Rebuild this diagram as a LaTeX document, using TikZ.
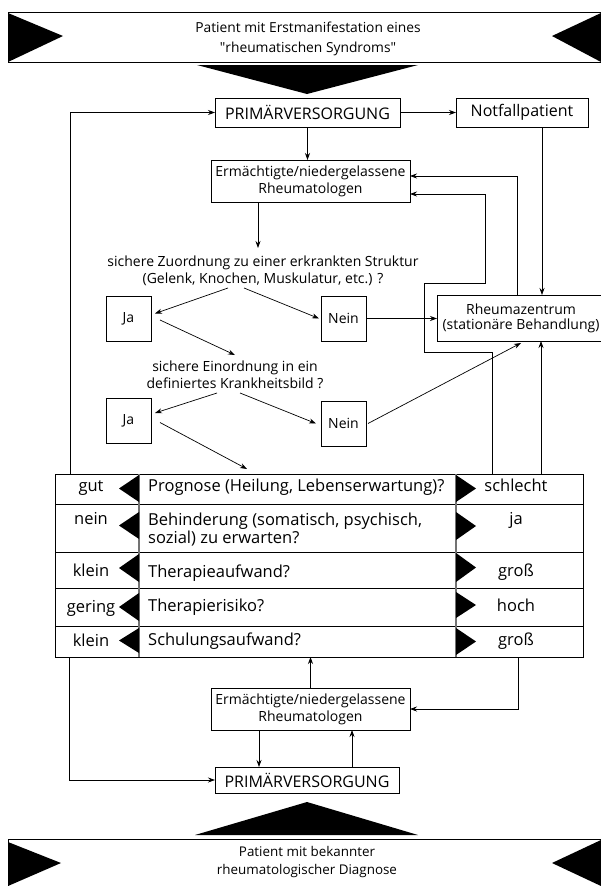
\documentclass[tikz,border=0pt]{standalone}
\usepackage{fontspec}
\setmainfont{Open Sans}
\newfontfamily\plainq{Open Sans}[Ligatures=TeXOff]
\usetikzlibrary{arrows.meta,calc}
\newcommand\fsA{\fontsize{13.8}{20}\selectfont}
\newcommand\fsE{\fontsize{13.4}{18}\selectfont}
\newcommand\fsB{\fontsize{16}{19}\selectfont}
\newcommand\fsC{\fontsize{14}{17}\selectfont}
\newcommand\fsR{\fontsize{14}{15}\selectfont}
\newcommand\fsD{\fontsize{16.5}{18}\selectfont}
\newcommand\sq{{\plainq\char34}}
\begin{document}
\begin{tikzpicture}[x=1pt,y=-1pt,
  box/.style={draw,line width=0.7pt,inner sep=0pt,outer sep=0pt,align=center},
  arr/.style={-{Stealth[length=7pt,width=5pt]},line width=0.7pt},
  ln/.style={line width=0.7pt},
  txt/.style={inner sep=0pt,outer sep=0pt,align=center},
  cell/.style={inner sep=0pt,anchor=mid,font=\fsD},
  div/.style={line width=1.8pt,draw=black!55}
]
\useasboundingbox (0,0) rectangle (601,886);

% ---------- top banner ----------
\draw[ln] (606,12) -- (8,12) -- (8,62) -- (606,62);
\fill (8,13) -- (63,36) -- (8,62) -- cycle;
\fill (601,13) -- (552,36) -- (601,62) -- cycle;
\node[txt,font=\fsA] (topban) at (308,39) {Patient mit Erstmanifestation eines\\\sq rheumatischen Syndroms\sq};
\fill (197,65) -- (418,65) -- (307,94) -- cycle;

% ---------- upper part ----------
\node[box,font=\fsB,minimum width=185pt,minimum height=29pt] (prim) at (307.5,112.5) {PRIMÄRVERSORGUNG};
\node[box,font=\fsB,minimum width=132pt,minimum height=29pt] (notf) at (522,112.5) {Notfallpatient};
\node[box,font=\fsC,minimum width=199pt,minimum height=42pt] (erm) at (310.5,181) {Ermächtigte/niedergelassene\\Rheumatologen};
\node[txt,font=\fsC] (q1) at (263,271) {sichere Zuordnung zu einer erkrankten Struktur\\(Gelenk, Knochen, Muskulatur, etc.) ?};
\node[box,font=\fsC,minimum width=45pt,minimum height=45pt] (ja1) at (128.5,318.5) {Ja};
\node[box,font=\fsC,minimum width=45pt,minimum height=45pt] (nein1) at (343.5,318.5) {Nein};
\node[box,font=\fsR,minimum width=168pt,minimum height=46pt] (rz) at (521,318) {Rheumazentrum\\(stationäre Behandlung)};
\node[txt,font=\fsC] (q2) at (235,375) {sichere Einordnung in ein\\definiertes Krankheitsbild ?};
\node[box,font=\fsC,minimum width=45pt,minimum height=45pt] (ja2) at (128.5,420.5) {Ja};
\node[box,font=\fsC,minimum width=45pt,minimum height=45pt] (nein2) at (343.5,423.5) {Nein};

% ---------- table ----------
\node[draw,line width=0.8pt,inner sep=0pt,outer sep=0pt,minimum width=528pt,minimum height=183pt,anchor=north west] (tbl) at (55,474) {};
\draw[ln] (55,504) -- (583,504);
\draw[ln] (55,552) -- (583,552);
\draw[ln] (55,588) -- (583,588);
\draw[ln] (55,626) -- (583,626);
\draw[div] (139,474) -- (139,657);
\draw[div] (456,474) -- (456,657);
% left triangles
\fill (139,475) -- (119,488.5) -- (139,502) -- cycle;
\fill (139,512) -- (119,525.5) -- (139,539) -- cycle;
\fill (139,554) -- (119,568) -- (139,582) -- cycle;
\fill (139,593) -- (119,607) -- (139,621) -- cycle;
\fill (139,628) -- (119,640.5) -- (139,653) -- cycle;
% right triangles
\fill (456,475) -- (476,488.5) -- (456,502) -- cycle;
\fill (456,512) -- (476,526) -- (456,540) -- cycle;
\fill (456,553) -- (476,567.5) -- (456,582) -- cycle;
\fill (456,592) -- (476,605) -- (456,618) -- cycle;
\fill (456,628) -- (476,641.5) -- (456,655) -- cycle;
% cell texts
\node[cell] (l1) at (91,489) {gut};
\node[cell] (l2) at (91,522) {nein};
\node[cell] (l3) at (91,574) {klein};
\node[cell] (l4) at (91,610) {gering};
\node[cell] (l5) at (91,644) {klein};
\node[cell,anchor=mid west] (m1) at (148,489) {Prognose (Heilung, Lebenserwartung)?};
\node[inner sep=0pt,anchor=west,font=\fsD,align=left] (m2) at (148,529.5) {Behinderung (somatisch, psychisch,\\sozial) zu erwarten?};
\node[cell,anchor=mid west] (m3) at (148,575) {Therapieaufwand?};
\node[cell,anchor=mid west] (m4) at (148,609) {Therapierisiko?};
\node[cell,anchor=mid west] (m5) at (148,643) {Schulungsaufwand?};
\node[cell] (r1) at (516,489) {schlecht};
\node[cell] (r2) at (516,522) {ja};
\node[cell] (r3) at (516,574) {groß};
\node[cell] (r4) at (516,609) {hoch};
\node[cell] (r5) at (516,643) {groß};

% ---------- lower part ----------
\node[box,font=\fsC,minimum width=199pt,minimum height=42pt] (berm) at (310.5,709) {Ermächtigte/niedergelassene\\Rheumatologen};
\node[box,font=\fsB,minimum width=184pt,minimum height=26pt] (bprim) at (307,780) {PRIMÄRVERSORGUNG};

\fill (195,835) -- (418,835) -- (307,802) -- cycle;
\draw[ln] (606,839) -- (8,839) -- (8,892);
\fill (8,842) -- (61,863) -- (8,886) -- cycle;
\fill (601,840) -- (552,863) -- (601,886) -- cycle;
\node[txt,font=\fsE] (botban) at (307,862) {Patient mit bekannter\\rheumatologischer Diagnose};

% ---------- named points ----------
\coordinate (q1in) at (258,248);
\coordinate (q1l) at (228,288);
\coordinate (q1r) at (244,288);
\coordinate (q2in) at (235,355);
\coordinate (q2l) at (217,393);
\coordinate (q2r) at (240,393);
\coordinate (tin) at (247,469);
\coordinate (c542) at (542,0);
\coordinate (c517) at (517,0);
\coordinate (t70) at ([xshift=15pt]tbl.north west);
\coordinate (t492) at (492,474);
\coordinate (t541) at (541,474);
\coordinate (p1) at (492,352);
\coordinate (p2) at (424,352);
\coordinate (p3) at (424,283);
\coordinate (p4) at (485,283);
\coordinate (b69) at ([xshift=14pt]tbl.south west);
\coordinate (b518) at ([xshift=-65pt]tbl.south east);
\coordinate (e1) at ([xshift=-51.5pt]berm.south);
\coordinate (e2) at ([xshift=41.5pt]berm.south);

% ---------- connectors ----------
\draw[arr] (prim) -- (notf);
\draw[arr] (prim.south) -- (prim.south |- erm.north);
\draw[arr] (erm.south -| q1in) -- (q1in);
\draw[arr] (q1l) -- ([xshift=4pt,yshift=5pt]ja1.east);
\draw[arr] (q1r) -- ([xshift=-2pt]nein1.west);
\draw[arr] ([xshift=9pt,yshift=-1.5pt]ja1.east) -- (q2in);
\draw[arr] (nein1.east) -- (nein1.east -| rz.west);
\draw[arr] (q2l) -- ([xshift=4pt,yshift=7.5pt]ja2.east);
\draw[arr] (q2r) -- ([xshift=-5pt]nein2.west);
\draw[arr] ([xshift=9pt,yshift=-2pt]ja2.east) -- (tin);
\draw[arr] ([xshift=2pt]nein2.east) -- ([yshift=-2pt]rz.south);
\draw[arr] (notf.south -| c542) -- (rz.north -| c542);
\draw[arr] (rz.north -| c517) |- ([yshift=5pt]erm.east);
\draw[arr] (t492) -- (p1) -- (p2) -- (p3) -- (p4) |- ([yshift=-13pt]erm.east);
\draw[arr] (t541) -- (rz.south -| t541);
\draw[arr] (t70) |- (prim.west);
\draw[arr] (b69) |- (bprim.west);
\draw[arr] (berm.north) -- (berm.north |- tbl.south);
\draw[arr] (b518) |- (berm.east);
\draw[arr] (e1) -- (e1 |- bprim.north);
\draw[arr] (e2 |- bprim.north) -- (e2);
\end{tikzpicture}
\end{document}
